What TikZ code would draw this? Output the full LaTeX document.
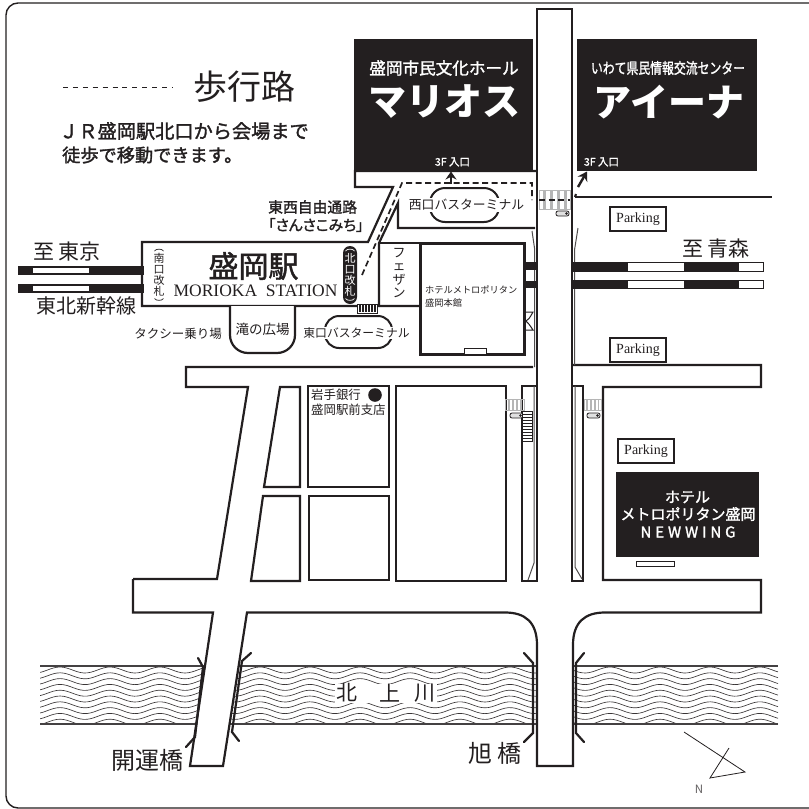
\documentclass[tikz,border=0pt]{standalone}
\usepackage{fontspec}
\setmainfont{Noto Sans CJK JP}
\newfontfamily\enserif{Liberation Serif}
\newfontfamily\medium[FakeBold=1.6]{Noto Sans CJK JP}
\usetikzlibrary{arrows.meta}
\definecolor{ink}{HTML}{231F20}
\definecolor{crossgray}{HTML}{B5B5B5}
\newcommand\fs[1]{\fontsize{#1}{#1}\selectfont}
\newcommand\crossing[4]{%
  \draw[crossgray,line width=1] (#1,#2) rectangle (#3,#4);
  \foreach \t in {0.14,0.36,0.58,0.8}{\fill[crossgray] ({#1+\t*(#3-#1)},#2) rectangle ({#1+(\t+0.1)*(#3-#1)},#4);}}
\newcommand\signal[2]{%
  \draw[ink,line width=.8,fill=crossgray!40,rounded corners=2] (#1,#2) rectangle ({#1+13},{#2+5});
  \fill[ink] ({#1+10.5},{#2+2.5}) circle (1.4);}
\tikzset{
  x=1pt,y=-1pt,
  road/.style={ink,line width=2.2,line join=miter},
  thinline/.style={ink!80,line width=1},
  walk/.style={ink,line width=1.7,dash pattern=on 6 off 3.5},
  txt/.style={inner sep=0,text=ink},
  wtxt/.style={inner sep=0,text=white},
  blackbox/.style={fill=ink,draw=none},
  parkbox/.style={draw=ink,line width=2.2,fill=white,inner sep=0,minimum width=56,minimum height=24,font=\enserif\fs{14},text=ink},
  railb/.style={fill=ink},
  railw/.style={fill=white,draw=ink,line width=.8},
  rail2/.style={ink,line width=2.2,line cap=round},
}
\begin{document}
\begin{tikzpicture}
\useasboundingbox (0,0) rectangle (809,809);
\fill[white] (0,0) rectangle (809,809);
% frame
\draw[ink,line width=1.4,rounded corners=12] (809,3) -- (6,3) -- (6,808) -- (809,808);
% river
\begin{scope}
\clip (40,666) rectangle (778,724);
\foreach \k in {0,...,9}{
  \draw[ink!90,line width=.65] plot[domain=40:778,samples=220,smooth] (\x,{670+5.8*\k-3*cos((\x-60)*7.2)});
}
\end{scope}
\draw[ink!85,line width=1.1] (40,666) -- (778,666);
\draw[ink!85,line width=1.3] (40,724) -- (778,724);
\fill[white] (335,684) rectangle (437,703);
\node[txt,font=\fs{21}] (kita) at (347,693) {北};
\node[txt,font=\fs{21}] (kami) at (390,693) {上};
\node[txt,font=\fs{21}] (kawa) at (425,693) {川};
% roads lower section
\draw[road] (133,579) -- (217,579) -- (248,387) -- (186,387) -- (186,367) -- (533,367);
\fill[white] (214,613) -- (191,766) -- (223,766) -- (247,613) -- cycle;
\fill[white] (538,640) rectangle (572,766);
\draw[road] (133,579) -- (133,612.5) -- (213,612.5) -- (190,766) -- (223,766) -- (247,612.5) -- (505,612.5) .. controls (525,612.5) and (537,622) .. (537,645) -- (537,766) -- (573,766) -- (573,645) .. controls (573,622) and (585,612.5) .. (605,612.5) -- (761,612.5) -- (761,580) -- (603,580) -- (603,387) -- (761,387) -- (761,365) -- (572,365);
% bridge rails
\draw[rail2] (198,658) -- (203,667) -- (195,737) -- (186,747);
\draw[rail2] (251,653) -- (242,661) -- (232,732) -- (239,741);
\draw[rail2] (524,653) -- (533,663) -- (533,733) -- (524,742);
\draw[rail2] (584,653) -- (576,663) -- (576,733) -- (584,742);
% blocks
\draw[road] (280,387) -- (300,387) -- (300,487) -- (264,487) -- cycle;
\draw[road] (263,496) -- (300,496) -- (300,581) -- (251,581) -- cycle;
\draw[road] (308,386) rectangle (389,487);
\draw[road] (309,496) rectangle (389,580);
\draw[road] (396,581) -- (396,386) -- (506,386) -- (506,581) -- cycle;
% median strips
\draw[road] (522,386) rectangle (537,581);
\draw[road] (572,386) rectangle (583,581);
\draw[thinline] (534,386) -- (534,563) -- (528,580);
\draw[thinline] (575,386) -- (575,567) -- (582,579);
% main road
\draw[road] (537,581) -- (537,9) -- (572,9) -- (572,581);
% thin side lines
\draw[thinline] (532,231) -- (534.5,248) -- (534.5,367);
\draw[thinline] (578,228) -- (574.5,250) -- (574.5,365);
% upper roads
\draw[road] (537,171) -- (355,171) -- (355,187) -- (393,187) -- (368,242) -- (142,242) -- (142,306) -- (420,306);
\draw[road] (379,306) -- (379,243) -- (398,203) -- (398,228) -- (535,228);
\draw[road] (379,243) -- (420,243);
\draw[road] (575,197) -- (772,197);
% hotel
\draw[ink,line width=3,fill=white] (420,243) rectangle (524,354);
\draw[ink,line width=.9,fill=white] (464,348) rectangle (486,354);
\draw[ink,line width=1] (525,312) -- (533,312) .. controls (529,319) .. (526,321) .. controls (529,324) .. (533,330) -- (525,330);
\fill[ink] (525,262) rectangle (536,270);
\fill[ink] (525,281) rectangle (536,288);
% railways right
\foreach \a/\b in {262/271,280/288}{
  \draw[railw] (573,\a) rectangle (763,\b);
  \fill[railb] (573,\a) rectangle (628,\b);
  \fill[railb] (684,\a) rectangle (739,\b);
}
% railways left
\foreach \a/\b in {266/275,284/293}{
  \fill[railb] (18,\a) rectangle (144,\b);
  \fill[white] (33,{\a+2}) rectangle (89,{\b-2});
}
% black boxes
\fill[blackbox] (354,39) rectangle (533,171);
\fill[blackbox] (577,39) rectangle (757,171);
\fill[blackbox] (616,472) rectangle (759,557);
\draw[ink,line width=.9,fill=white] (636,561) rectangle (674,566);
% crossings
\crossing{539}{190}{570}{209}
\crossing{505}{399}{524}{410}
\crossing{584}{399}{601}{410}
\signal{556}{211}
\signal{510}{413}
\signal{587}{413}
\draw[ink,line width=1,fill=white] (522.5,411) rectangle (532,441);
\foreach \t in {414,417,...,438}{\draw[ink,line width=.9] (522.5,\t) -- (532,\t);}
% east gate comb
\draw[ink,line width=1,fill=white] (357,304) rectangle (377,313);
\foreach \t in {360,363,...,375}{\draw[ink,line width=1.2] (\t,305) -- (\t,312);}
% walking route
\coordinate (routeA) at (362,275);
\coordinate (routeB) at (402,183);
\coordinate (routeC) at (532,183);
\coordinate (routeD) at (532,200);
\draw[walk] (routeA) -- (routeB) -- (routeC) -- (routeD);
\draw[walk] (539,200) -- (570,200);
\draw[ink,line width=2.2,-{Stealth[length=8pt,width=11pt]}] (451,184) -- (451,171.5);
\draw[ink,line width=2.2] (575,197) -- (576,194);
\draw[ink,line width=2.4,-{Stealth[length=9pt,width=11pt]}] (578,187) -- (587,171.5);
% bus terminals
\draw[ink,line width=2,rounded corners=15] (430,188) rectangle (499,222);
\draw[ink,line width=2,rounded corners=14] (325,316) rectangle (392,348);
\node[txt,fill=white,inner ysep=1,font=\fs{12.8}] (westbus) at (466.5,205) {西口バスターミナル};
\node[txt,fill=white,inner ysep=1,font=\fs{11.8}] (eastbus) at (356.5,333) {東口バスターミナル};
% square
\draw[road,fill=white,rounded corners=18] (230,306) -- (230,353) -- (295,353) -- (295,306);
\node[txt,font=\fs{13.5}] (taki) at (262.5,329) {滝の広場};
\node[txt,font=\fs{12.5}] (taxi) at (178,334) {タクシー乗り場};
% north gate
\fill[ink,rounded corners=7] (343,246) rectangle (357,304);
\foreach \ch/\yy/\nm in {北/258/na,口/269.5/nb,改/280.5/nc,札/291.5/nd}{
  \node[wtxt,font=\fs{11}] (\nm) at (350,\yy) {\ch};
}
\draw[white,line width=.7] (345.5,251) .. controls (347,248.5) and (353,248.5) .. (354.5,251);
\draw[white,line width=.7] (345.5,298.5) .. controls (347,301) and (353,301) .. (354.5,298.5);
\foreach \ch/\yy/\nm in {南/258/sa,口/269.5/sb,改/280.5/sc,札/291.5/sd}{
  \node[txt,font=\fs{11}] (\nm) at (159,\yy) {\ch};
}
\draw[ink,line width=.7] (154.5,251) .. controls (156,248.5) and (162,248.5) .. (163.5,251);
\draw[ink,line width=.7] (154.5,298.5) .. controls (156,301) and (162,301) .. (163.5,298.5);
% labels
\coordinate (legA) at (63,87);
\coordinate (legB) at (172,87);
\draw[ink,line width=1,dash pattern=on 5 off 4.9] (legA) -- (legB);
\node[txt,font=\fs{34}] (ped) at (244,87) {歩行路};
\node[txt,anchor=west,font=\medium\fs{19.2}] (jr) at (59,131) {ＪＲ盛岡駅北口から会場まで};
\node[txt,anchor=west,font=\medium\fs{18.2}] (toho) at (62,155) {徒歩で移動できます。};
\node[txt,anchor=west,font=\medium\fs{14.8}] (jiyu) at (268,207) {東西自由通路};
\node[txt,anchor=west,font=\medium\fs{14.8}\addfontfeature{RawFeature=+palt}] (sansa) at (268,225) {「さんさこみち」};
\node[wtxt,font=\medium\fs{16.6}] (mh1) at (444,68) {盛岡市民文化ホール};
\node[wtxt,font=\bfseries\fs{38}] (mh2) at (444.5,102) {マリオス};
\node[wtxt,font=\medium\fs{10.5}] (mh3) at (452.5,162) {3F 入口};
\node[wtxt,font=\medium\fs{15}] (ai1) at (668,68) {\scalebox{.79}[1]{いわて県民情報交流センター}};
\node[wtxt,font=\bfseries\fs{38}] (ai2) at (669,102) {アイーナ};
\node[wtxt,font=\medium\fs{10.5}] (ai3) at (601.5,162) {3F 入口};
\node[wtxt,font=\medium\fs{15}] (nw1) at (687.5,497) {ホテル};
\node[wtxt,font=\medium\fs{15}] (nw2) at (688,514) {メトロポリタン盛岡};
\node[wtxt,font=\medium\fs{15}\addfontfeature{LetterSpace=26}] (nw3) at (688,532) {NEWWING};
\node[parkbox] (park1) at (638,219) {Parking};
\node[parkbox] (park2) at (638,350) {Parking};
\node[parkbox] (park3) at (646,451) {Parking};
\node[txt,font=\fs{21}] (toaomori) at (716,249) {至 青森};
\node[txt,font=\fs{21}] (totokyo) at (67,252) {至 東京};
\node[txt,font=\fs{20}] (shinkansen) at (86,306) {東北新幹線};
\node[txt,font=\medium\fs{30}] (morioka) at (253.5,266) {盛岡駅};
\node[txt,font=\enserif\fs{17.5}] (station) at (255.5,291) {MORIOKA\ \ STATION};
\node[txt,align=center,font=\fs{13}] (fezan) at (399,273) {フ\\[.5pt]ェ\\[.5pt]ザ\\[.5pt]ン};
\node[txt,anchor=west,font=\fs{9.2}] (hotel1) at (425,290) {ホテルメトロポリタン};
\node[txt,anchor=west,font=\fs{9.2}] (hotel2) at (425,303) {盛岡本館};
\node[txt,anchor=west,font=\fs{12.4}] (bank1) at (311,395) {岩手銀行};
\node[txt,anchor=west,font=\fs{12.4}] (bank2) at (311,410) {盛岡駅前支店};
\fill[ink] (375,395) circle (6.8);
\node[txt,font=\fs{24}] (kaiun) at (147,760) {開運橋};
\node[txt,font=\fs{24}] (asahi) at (495,753) {旭 橋};
% north mark
\draw[ink,line width=.8,line join=miter] (684,732) -- (745,772) -- (710,778) -- (729,748);
\node[txt,font=\fs{11.5},text=ink!70] (north) at (699,789) {N};
\end{tikzpicture}
\end{document}
